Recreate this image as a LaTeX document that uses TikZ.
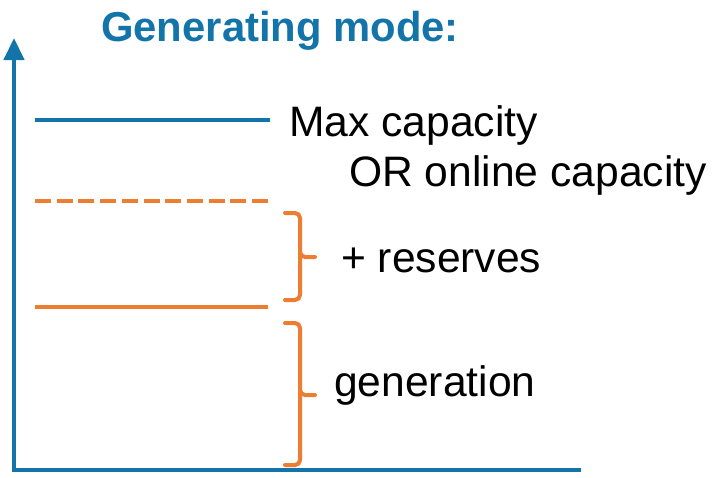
\documentclass[tikz,border=0pt]{standalone}
\usepackage{fontspec}
\setmainfont{Liberation Sans}
\usetikzlibrary{arrows.meta}
\definecolor{axisblue}{RGB}{19,116,170}
\definecolor{lvlorange}{RGB}{237,125,49}
\tikzset{
  axisline/.style={axisblue, line width=4.5pt},
  capline/.style={axisblue, line width=4pt},
  lvlline/.style={lvlorange, line width=4pt},
  bracepath/.style={lvlorange, line width=4pt, rounded corners=5pt, line cap=round},
  lbl/.style={anchor=base west, inner sep=0pt, font=\fontsize{42.6}{48}\selectfont},
}
\begin{document}
\begin{tikzpicture}[x=1pt, y=-1pt]
\useasboundingbox (0,0) rectangle (717,477);

% axes
\coordinate (origin) at (14,470);
\coordinate (ytop) at (14,38);
\coordinate (xend) at (581,470);
\draw[axisline, -{Triangle[width=20pt,length=22pt]}] (14,472) -- (ytop);
\draw[axisline] (12,470) -- (xend);

% title
\node[lbl, axisblue, font=\fontsize{41.8}{48}\selectfont\bfseries] (title) at (101,41) {Generating mode:};

% capacity levels
\draw[capline] (35,120) -- (270,120);
\draw[lvlline, dash pattern=on 16pt off 5.7pt] (35,201) -- (270,201);
\draw[lvlline] (35,307) -- (268,307);

% braces
\draw[bracepath] (285,213) -- (300,213) -- (300,257) -- (315,257);
\draw[bracepath] (300,252) -- (300,300) -- (285,300);
\draw[bracepath] (285,323) -- (300,323) -- (300,395) -- (315,395);
\draw[bracepath] (300,390) -- (300,465) -- (285,465);

% labels
\node[lbl] (maxcap) at (289,136) {Max capacity};
\node[lbl] (onlinecap) at (349,186) {OR online capacity};
\node[lbl] (reserves) at (341,272) {+ reserves};
\node[lbl] (gen) at (334,396) {generation};
\end{tikzpicture}
\end{document}
